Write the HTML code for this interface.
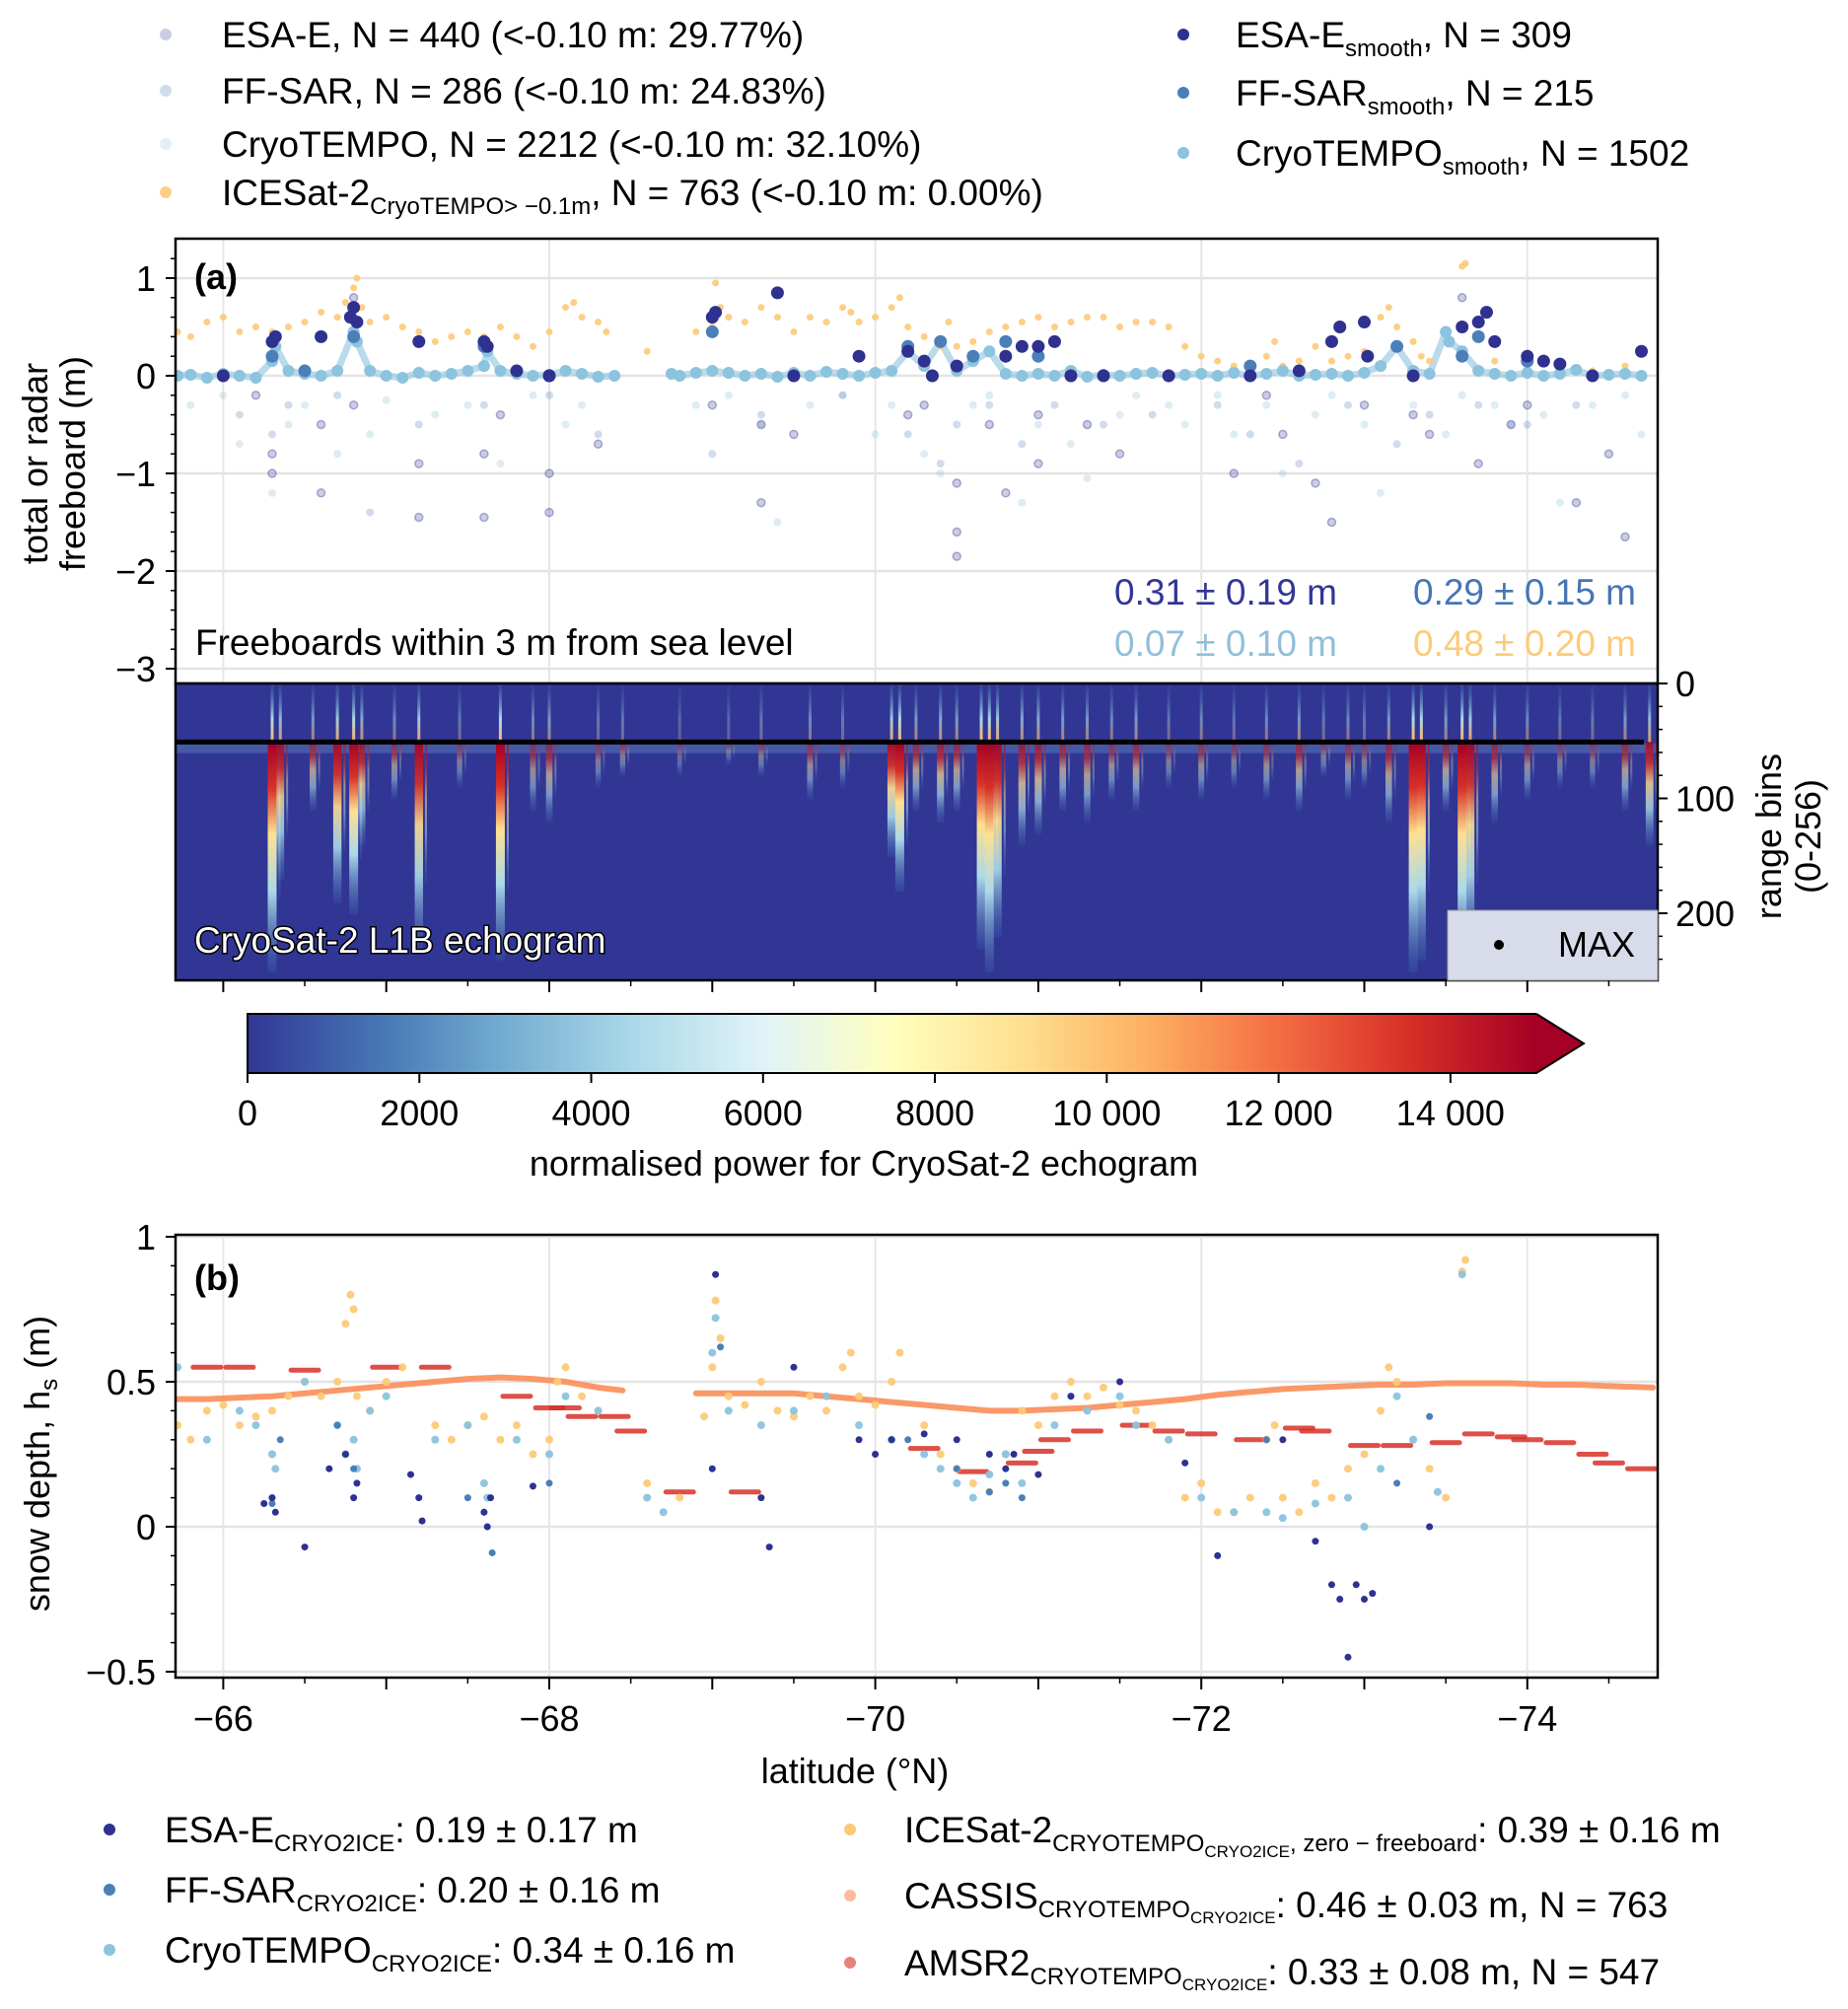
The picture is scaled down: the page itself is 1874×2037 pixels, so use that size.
<!DOCTYPE html>
<html><head><meta charset="utf-8"><style>
html,body{margin:0;padding:0;background:#fff}
svg{display:block;font-family:"Liberation Sans",sans-serif}
</style></head><body>
<svg id="fig" width="1874" height="2037" viewBox="0 0 1874 2037" xmlns="http://www.w3.org/2000/svg">
<defs>
<clipPath id="clipA"><rect x="178" y="242" width="1503" height="451"/></clipPath>
<clipPath id="clipE"><rect x="178" y="693" width="1503" height="301"/></clipPath>
<clipPath id="clipB"><rect x="178" y="1252" width="1503" height="449"/></clipPath>
<linearGradient id="cbar" x1="0" x2="1" y1="0" y2="0">
<stop offset="0" stop-color="#313695"/><stop offset="0.1" stop-color="#4575b4"/><stop offset="0.2" stop-color="#74add1"/><stop offset="0.3" stop-color="#abd9e9"/><stop offset="0.4" stop-color="#e0f3f8"/><stop offset="0.5" stop-color="#ffffbf"/><stop offset="0.6" stop-color="#fee090"/><stop offset="0.7" stop-color="#fdae61"/><stop offset="0.8" stop-color="#f46d43"/><stop offset="0.9" stop-color="#d73027"/><stop offset="1" stop-color="#a50026"/>
</linearGradient>
<linearGradient id="streak" x1="0" x2="0" y1="0" y2="1">
<stop offset="0" stop-color="#a50026"/><stop offset="0.2" stop-color="#d73027"/><stop offset="0.4" stop-color="#fee090"/><stop offset="0.65" stop-color="#abd9e9"/><stop offset="1" stop-color="#4575b4" stop-opacity="0.2"/>
</linearGradient>
<linearGradient id="streakUp" x1="0" x2="0" y1="1" y2="0">
<stop offset="0" stop-color="#fdae61"/><stop offset="0.4" stop-color="#abd9e9"/><stop offset="1" stop-color="#4575b4" stop-opacity="0.2"/>
</linearGradient>
</defs>
<g id="layer"></g>
</svg>
<script>
// ---------- Panel (a) data ----------
const icesatA_lat=[-65.72,-65.8,-65.9,-66.0,-66.1,-66.2,-66.3,-66.4,-66.5,-66.6,-66.7,-66.75,-66.8,-66.82,-66.85,-66.9,-67.0,-67.1,-67.2,-67.3,-67.4,-67.5,-67.6,-67.7,-67.8,-67.9,-68.0,-68.1,-68.15,-68.2,-68.3,-68.35,-68.6,-68.9,-69.0,-69.02,-69.05,-69.1,-69.2,-69.3,-69.4,-69.5,-69.6,-69.7,-69.8,-69.85,-69.9,-70.0,-70.1,-70.15,-70.2,-70.3,-70.4,-70.45,-70.5,-70.6,-70.7,-70.8,-70.9,-71.0,-71.1,-71.2,-71.3,-71.4,-71.5,-71.6,-71.7,-71.8,-71.9,-72.0,-72.1,-72.2,-72.3,-72.4,-72.45,-72.5,-72.6,-72.7,-72.8,-72.9,-73.0,-73.1,-73.15,-73.2,-73.3,-73.35,-73.4,-73.6,-73.62,-73.8,-74.0,-74.2,-74.4,-74.6];
const icesatA_val=[0.45,0.4,0.55,0.6,0.45,0.5,0.45,0.5,0.55,0.65,0.6,0.75,0.9,1.0,0.7,0.55,0.6,0.5,0.45,0.35,0.4,0.45,0.4,0.5,0.4,0.3,0.45,0.7,0.75,0.6,0.55,0.45,0.25,0.45,0.5,0.95,0.7,0.6,0.55,0.7,0.6,0.45,0.6,0.55,0.7,0.65,0.55,0.6,0.7,0.8,0.5,0.4,0.3,0.55,0.3,0.35,0.45,0.5,0.55,0.6,0.5,0.55,0.6,0.6,0.5,0.55,0.55,0.5,0.3,0.2,0.15,0.1,0.05,0.2,0.35,0.1,0.15,0.3,0.15,0.2,0.25,0.6,0.7,0.5,0.35,0.2,0.15,1.12,1.15,0.15,0.1,0.1,0.05,0.1];
const ctSmoothA_lat=[-65.72,-65.8,-65.9,-66.0,-66.1,-66.2,-66.3,-66.32,-66.4,-66.5,-66.6,-66.7,-66.8,-66.82,-66.9,-67.0,-67.1,-67.2,-67.3,-67.4,-67.5,-67.6,-67.62,-67.7,-67.8,-67.9,-68.0,-68.1,-68.2,-68.3,-68.4,-68.75,-68.8,-68.9,-69.0,-69.1,-69.2,-69.3,-69.4,-69.5,-69.6,-69.7,-69.8,-69.9,-70.0,-70.1,-70.2,-70.3,-70.4,-70.5,-70.6,-70.7,-70.8,-70.9,-71.0,-71.1,-71.2,-71.3,-71.4,-71.5,-71.6,-71.7,-71.8,-71.9,-72.0,-72.1,-72.2,-72.3,-72.4,-72.5,-72.6,-72.7,-72.8,-72.9,-73.0,-73.1,-73.2,-73.3,-73.4,-73.5,-73.52,-73.6,-73.7,-73.8,-73.9,-74.0,-74.1,-74.2,-74.3,-74.4,-74.5,-74.6,-74.7];
const ctSmoothA_val=[0.0,0.01,-0.02,0.02,0.0,-0.02,0.15,0.3,0.05,0.02,0.0,0.05,0.45,0.35,0.05,0.0,-0.02,0.03,0.0,0.02,0.05,0.1,0.25,0.05,0.02,0.0,0.01,0.05,0.02,-0.01,0.0,0.02,0.0,0.03,0.05,0.03,0.0,0.02,-0.01,0.03,0.0,0.04,0.02,0.0,0.03,0.05,0.25,0.1,0.35,0.05,0.15,0.25,0.02,0.0,0.02,0.0,0.05,-0.01,0.01,0.0,0.02,0.03,0.0,0.01,0.02,0.0,0.03,0.0,0.02,0.05,0.0,0.01,0.02,0.0,0.03,0.1,0.3,0.05,0.02,0.45,0.35,0.25,0.05,0.02,0.0,0.03,0.0,0.02,0.06,0.0,0.01,0.02,0.0];
const esaSmoothA_lat=[-66.0,-66.3,-66.32,-66.6,-66.8,-66.82,-66.78,-67.2,-67.6,-67.62,-67.8,-68.0,-69.0,-69.02,-69.4,-69.5,-69.9,-70.2,-70.3,-70.35,-70.5,-70.8,-70.9,-71.0,-71.1,-71.2,-71.4,-71.8,-72.3,-72.6,-72.8,-72.85,-73.0,-73.02,-73.3,-73.6,-73.7,-73.75,-73.8,-74.0,-74.1,-74.2,-74.4,-74.7];
const esaSmoothA_val=[0.0,0.35,0.4,0.4,0.7,0.55,0.6,0.35,0.35,0.3,0.05,0.0,0.6,0.65,0.85,0.0,0.2,0.25,0.15,0.0,0.1,0.2,0.3,0.3,0.35,0.0,0.0,0.0,0.0,0.05,0.35,0.5,0.55,0.2,0.0,0.5,0.55,0.65,0.35,0.2,0.15,0.12,0.0,0.25];
const ffSmoothA_lat=[-66.3,-66.5,-66.8,-67.6,-68.0,-69.0,-70.2,-70.4,-70.6,-70.8,-71.0,-72.3,-73.2,-73.6,-73.7,-74.0];
const ffSmoothA_val=[0.2,0.05,0.4,0.3,0.0,0.45,0.3,0.35,0.2,0.35,0.2,0.1,0.3,0.2,0.4,0.15];
const esaRawA_lat=[-66.2,-66.3,-66.3,-66.6,-66.6,-66.8,-66.8,-67.2,-67.2,-67.6,-67.6,-67.7,-68.0,-68.0,-68.3,-69.0,-69.3,-69.3,-69.5,-70.2,-70.3,-70.5,-70.5,-70.5,-70.7,-70.8,-71.0,-71.0,-71.3,-71.5,-72.2,-72.4,-72.5,-72.7,-72.8,-73.0,-73.3,-73.4,-73.6,-73.7,-73.9,-74.0,-74.3,-74.5,-74.6];
const esaRawA_val=[-0.2,-0.8,-1.0,-0.5,-1.2,0.8,-0.3,-0.9,-1.45,-0.8,-1.45,-0.4,-1.0,-1.4,-0.7,-0.3,-0.5,-1.3,-0.6,-0.4,-0.3,-1.1,-1.6,-1.85,-0.5,-1.2,-0.4,-0.9,-0.5,-0.8,-1.0,-0.2,-0.6,-1.1,-1.5,-0.3,-0.4,-0.6,0.8,-0.9,-0.5,-0.3,-1.3,-0.8,-1.65];
const ffRawA_lat=[-66.1,-66.3,-66.4,-66.7,-66.9,-67.2,-67.6,-68.0,-68.3,-69.0,-69.3,-69.8,-70.2,-70.4,-70.5,-70.7,-70.9,-71.1,-71.4,-71.7,-72.1,-72.3,-72.6,-72.9,-73.2,-73.4,-73.7,-74.0,-74.3];
const ffRawA_val=[-0.4,-0.6,-0.3,-0.2,-1.4,-0.5,-0.3,-0.2,-0.6,-0.8,-0.4,-0.2,-0.6,-0.9,-0.5,-0.3,-0.7,-0.3,-0.5,-0.4,-0.3,-0.6,-0.9,-0.3,-0.7,-0.4,-0.3,-0.5,-0.3];
const ctRawA_lat=[-65.8,-66.0,-66.1,-66.3,-66.4,-66.5,-66.7,-66.9,-67.0,-67.3,-67.5,-67.7,-67.9,-68.1,-68.2,-68.9,-69.1,-69.3,-69.4,-69.6,-69.8,-70.0,-70.1,-70.3,-70.4,-70.6,-70.7,-70.9,-71.0,-71.2,-71.3,-71.5,-71.6,-71.8,-71.9,-72.1,-72.2,-72.4,-72.5,-72.7,-72.8,-73.0,-73.1,-73.3,-73.5,-73.6,-73.8,-73.9,-74.1,-74.2,-74.4,-74.6,-74.7];
const ctRawA_val=[-0.3,-0.2,-0.7,-1.2,-0.5,-0.3,-0.8,-0.6,-0.25,-0.4,-0.3,-0.9,-0.2,-0.5,-0.3,-0.3,-0.2,-0.5,-1.5,-0.3,-0.2,-0.6,-0.3,-0.8,-1.0,-0.3,-0.2,-1.3,-0.5,-0.7,-1.05,-0.4,-0.2,-0.3,-0.5,-0.2,-0.6,-0.3,-1.0,-0.4,-0.2,-0.5,-1.2,-0.3,-0.6,-0.2,-0.3,-0.5,-0.4,-1.3,-0.3,-0.2,-0.6];
const statsA=[["0.31 ± 0.19 m","#313695",1130,613],["0.29 ± 0.15 m","#4575b4",1433,613],["0.07 ± 0.10 m","#91bfdb",1130,665],["0.48 ± 0.20 m","#fdca78",1433,665]];
// ---------- Echogram data ----------
const streakLat=[-66.3,-66.35,-66.55,-66.7,-66.8,-66.85,-67.05,-67.2,-67.45,-67.7,-67.9,-68.0,-68.3,-68.45,-68.8,-69.1,-69.3,-69.6,-69.8,-70.1,-70.15,-70.25,-70.4,-70.5,-70.65,-70.7,-70.75,-70.9,-71.0,-71.15,-71.3,-71.45,-71.6,-71.8,-72.0,-72.2,-72.4,-72.6,-72.75,-72.9,-73.0,-73.15,-73.3,-73.35,-73.5,-73.6,-73.65,-73.8,-74.0,-74.2,-74.4,-74.6,-74.75];
const streakLen=[200,120,60,140,150,90,50,180,40,190,60,70,40,30,30,20,30,50,40,100,130,60,70,60,180,200,170,90,80,60,70,50,60,40,50,40,50,60,30,50,40,70,200,190,60,200,180,70,50,40,40,60,90];
const streakPow=[1.0,0.8,0.6,0.9,1.0,0.7,0.5,0.9,0.4,1.0,0.5,0.6,0.4,0.4,0.3,0.3,0.4,0.5,0.4,0.9,1.0,0.6,0.7,0.6,1.0,1.0,0.9,0.7,0.7,0.6,0.6,0.5,0.6,0.4,0.5,0.4,0.5,0.6,0.4,0.5,0.4,0.6,1.0,1.0,0.6,1.0,0.9,0.6,0.5,0.4,0.4,0.6,0.8];
const surfaceBin=51;
// ---------- Panel (b) data ----------
const cassisLat=[-65.72,-65.9,-66.1,-66.3,-66.5,-66.7,-66.9,-67.1,-67.3,-67.5,-67.7,-67.9,-68.1,-68.3,-68.45,-68.9,-69.1,-69.3,-69.5,-69.7,-69.9,-70.1,-70.3,-70.5,-70.7,-70.9,-71.1,-71.3,-71.5,-71.7,-71.9,-72.1,-72.3,-72.5,-72.7,-72.9,-73.1,-73.3,-73.5,-73.7,-73.9,-74.1,-74.3,-74.5,-74.77];
const cassisVal=[0.44,0.44,0.445,0.45,0.46,0.47,0.48,0.49,0.50,0.51,0.515,0.51,0.50,0.48,0.47,0.46,0.46,0.46,0.46,0.45,0.44,0.43,0.42,0.41,0.40,0.40,0.405,0.41,0.42,0.43,0.44,0.455,0.465,0.475,0.48,0.485,0.49,0.49,0.495,0.495,0.495,0.49,0.49,0.485,0.48];
const amsrLat=[-65.9,-66.1,-66.5,-67.0,-67.3,-67.8,-68.0,-68.1,-68.2,-68.4,-68.5,-68.8,-69.2,-70.3,-70.6,-70.9,-71.0,-71.1,-71.3,-71.6,-71.8,-72.0,-72.3,-72.6,-72.7,-73.0,-73.2,-73.5,-73.7,-73.9,-74.0,-74.2,-74.4,-74.5,-74.7];
const amsrVal=[0.55,0.55,0.54,0.55,0.55,0.45,0.41,0.41,0.38,0.38,0.33,0.12,0.12,0.27,0.19,0.22,0.26,0.30,0.33,0.35,0.33,0.32,0.30,0.34,0.33,0.28,0.28,0.29,0.32,0.31,0.30,0.29,0.25,0.22,0.20];
const icesatB_lat=[-65.72,-65.8,-65.9,-66.0,-66.1,-66.2,-66.3,-66.4,-66.5,-66.6,-66.7,-66.75,-66.78,-66.8,-66.82,-66.9,-67.0,-67.1,-67.3,-67.4,-67.5,-67.6,-67.7,-67.8,-67.9,-68.0,-68.05,-68.1,-68.2,-68.3,-68.6,-68.8,-68.95,-69.0,-69.02,-69.05,-69.1,-69.2,-69.3,-69.4,-69.5,-69.6,-69.7,-69.8,-69.85,-69.9,-70.0,-70.1,-70.15,-70.3,-70.4,-70.5,-70.6,-70.7,-70.8,-70.9,-71.0,-71.1,-71.2,-71.3,-71.4,-71.5,-71.6,-71.7,-71.8,-71.9,-72.0,-72.1,-72.2,-72.3,-72.4,-72.45,-72.5,-72.6,-72.7,-72.8,-72.9,-73.0,-73.1,-73.15,-73.2,-73.3,-73.4,-73.5,-73.6,-73.62];
const icesatB_val=[0.35,0.3,0.4,0.42,0.35,0.38,0.4,0.45,0.5,0.45,0.5,0.7,0.8,0.75,0.45,0.4,0.5,0.55,0.35,0.3,0.35,0.38,0.3,0.35,0.25,0.3,0.5,0.55,0.45,0.4,0.15,0.1,0.38,0.55,0.78,0.65,0.45,0.42,0.5,0.4,0.38,0.45,0.4,0.55,0.6,0.45,0.42,0.5,0.6,0.35,0.25,0.2,0.15,0.12,0.25,0.4,0.35,0.45,0.5,0.45,0.48,0.42,0.4,0.35,0.3,0.1,0.15,0.05,0.05,0.1,0.3,0.35,0.1,0.05,0.15,0.1,0.2,0.25,0.4,0.55,0.5,0.3,0.2,0.1,0.88,0.92];
const ctB_lat=[-65.72,-65.9,-66.1,-66.2,-66.3,-66.32,-66.5,-66.7,-66.75,-66.8,-66.82,-66.9,-67.0,-67.3,-67.5,-67.6,-67.62,-67.8,-68.0,-68.1,-68.3,-68.6,-68.7,-69.0,-69.02,-69.1,-69.3,-69.5,-69.7,-69.9,-70.1,-70.3,-70.4,-70.5,-70.6,-70.7,-70.8,-70.9,-71.1,-71.3,-71.5,-71.6,-71.8,-72.0,-72.2,-72.4,-72.5,-72.7,-72.9,-73.0,-73.1,-73.2,-73.3,-73.45,-73.6];
const ctB_val=[0.55,0.3,0.4,0.35,0.25,0.2,0.5,0.35,0.25,0.3,0.2,0.4,0.45,0.3,0.35,0.15,0.1,0.3,0.25,0.45,0.4,0.1,0.05,0.6,0.72,0.4,0.35,0.4,0.45,0.35,0.3,0.25,0.2,0.15,0.1,0.18,0.25,0.15,0.35,0.4,0.45,0.35,0.3,0.1,0.05,0.05,0.03,0.08,0.1,0.0,0.2,0.45,0.3,0.12,0.87];
const esaB_lat=[-66.25,-66.3,-66.32,-66.5,-66.65,-66.75,-66.8,-66.82,-67.15,-67.2,-67.22,-67.6,-67.62,-67.64,-67.9,-69.0,-69.02,-69.3,-69.35,-69.5,-69.9,-70.0,-70.1,-70.3,-70.5,-70.7,-70.8,-70.85,-71.0,-71.2,-71.5,-71.9,-72.1,-72.5,-72.7,-72.8,-72.85,-72.9,-72.95,-73.0,-73.05,-73.4];
const esaB_val=[0.08,0.1,0.05,-0.07,0.2,0.25,0.1,0.15,0.18,0.1,0.02,0.05,0.0,0.1,0.14,0.2,0.87,0.1,-0.07,0.55,0.3,0.25,0.3,0.32,0.3,0.25,0.2,0.25,0.18,0.45,0.5,0.22,-0.1,0.3,-0.05,-0.2,-0.25,-0.45,-0.2,-0.25,-0.23,0.0];
const ffB_lat=[-66.3,-66.35,-66.7,-66.8,-67.5,-67.6,-67.65,-68.0,-69.05,-70.2,-70.5,-70.7,-70.8,-70.9,-71.2,-72.4,-73.2,-73.4];
const ffB_val=[0.08,0.3,0.35,0.2,0.1,0.05,-0.09,0.15,0.62,0.3,0.2,0.12,0.15,0.1,0.45,0.3,0.15,0.38];
// ---------- axes ----------
const R=1681;
const xA=lat=>226.4+(-66-lat)*165.3;
const yA=v=>381-v*99;
const yE=b=>693+b*1.165;
const yB=v=>1548-v*294;
const FS=36, SUB=24;
const NS="http://www.w3.org/2000/svg";
const root=document.getElementById('layer');
function mk(tag,attrs,parent){const e=document.createElementNS(NS,tag);for(const k in attrs)e.setAttribute(k,attrs[k]);(parent||root).appendChild(e);return e;}
function txt(s,x,y,size,extra,parent){const t=mk('text',Object.assign({x:x,y:y,'font-size':size},extra||{}),parent);t.innerHTML=s;return t;}

const gA=mk('g',{});


[-3,-2,-1,0,1].forEach(v=>mk('line',{x1:178,x2:R,y1:yA(v),y2:yA(v),stroke:'#e3e3e3','stroke-width':2.5},gA));
[-66,-68,-70,-72,-74].forEach(v=>mk('line',{x1:xA(v),x2:xA(v),y1:242,y2:693,stroke:'#e6e6e6','stroke-width':2},gA));

function scatter(name,lats,vals,ys,r,fill,op,clip,strokeC){
  const g=mk('g',{'clip-path':'url(#'+clip+')'});
  
  
  for(let i=0;i<lats.length;i++){
    const c=mk('circle',{cx:xA(lats[i]),cy:ys(vals[i]),r:r,fill:fill,'fill-opacity':op},g);
    if(strokeC){c.setAttribute('stroke',strokeC);c.setAttribute('stroke-opacity',op*1.5);c.setAttribute('stroke-width',1.5);}
  }
}
const band=mk('g',{'clip-path':'url(#clipA)'});


{let seg=[];const segs=[];for(let i=0;i<ctSmoothA_lat.length;i++){if(i>0&&ctSmoothA_lat[i-1]-ctSmoothA_lat[i]>0.3){segs.push(seg);seg=[];}seg.push(xA(ctSmoothA_lat[i])+','+yA(ctSmoothA_val[i]));}segs.push(seg);
segs.forEach(s=>mk('polyline',{points:s.join(' '),fill:'none',stroke:'#8cc3de','stroke-width':7,'stroke-opacity':0.6,'stroke-linejoin':'round'},band));}
scatter('cryotempo-raw-points',ctRawA_lat,ctRawA_val,yA,4,'#91bfdb',0.3,'clipA');
scatter('ffsar-raw-points',ffRawA_lat,ffRawA_val,yA,4,'#4575b4',0.25,'clipA');
scatter('esae-raw-points',esaRawA_lat,esaRawA_val,yA,4,'#313695',0.25,'clipA','#313695');
scatter('icesat2-points-a',icesatA_lat,icesatA_val,yA,3.5,'#fdca78',0.9,'clipA');
scatter('cryotempo-smooth-points',ctSmoothA_lat,ctSmoothA_val,yA,6,'#8cc3de',1,'clipA');
scatter('ffsar-smooth-points',ffSmoothA_lat,ffSmoothA_val,yA,6.5,'#4a7fb9',1,'clipA');
scatter('esae-smooth-points',esaSmoothA_lat,esaSmoothA_val,yA,6.5,'#2f3190',1,'clipA');

mk('rect',{x:178,y:242,width:R-178,height:451,fill:'none',stroke:'#000','stroke-width':2.5});
const yaT=mk('g',{});


[-3,-2,-1,0,1].forEach(v=>{mk('line',{x1:168,x2:178,y1:yA(v),y2:yA(v),stroke:'#000','stroke-width':2},yaT);txt(v<0?'−'+(-v):''+v,158,yA(v)+13,FS,{'text-anchor':'end'},yaT);});
for(let v=-3;v<=1.3;v+=0.2){if(Math.abs(v-Math.round(v))>0.01)mk('line',{x1:173,x2:178,y1:yA(v),y2:yA(v),stroke:'#000','stroke-width':1.5},yaT);}
const yl=txt('total or radar',0,0,FS,{'text-anchor':'middle',transform:'translate(48,470) rotate(-90)'});


const yl2=txt('freeboard (m)',0,0,FS,{'text-anchor':'middle',transform:'translate(86,470) rotate(-90)'});


const la=txt('(a)',197,293,FS,{'font-weight':'bold'});


const fb=txt('Freeboards within 3 m from sea level',198,664,37,{});


statsA.forEach(s=>{const t=txt(s[0],s[2],s[3],37,{fill:s[1]});});

// echogram
const gE=mk('g',{'clip-path':'url(#clipE)'});


mk('rect',{x:178,y:693,width:R-178,height:301,fill:'#313695'},gE);
mk('rect',{x:178,y:yE(surfaceBin+1),width:R-178,height:10,fill:'#74add1','fill-opacity':0.3},gE);
for(let i=0;i<streakLat.length;i++){
  const x=xA(streakLat[i]);
  const w=3+streakPow[i]*6;
  const s=mk('rect',{x:x-w/2,y:yE(surfaceBin),width:w,height:streakLen[i]*1.165,fill:'url(#streak)','fill-opacity':streakPow[i]},gE);
  
  
  mk('rect',{x:x+w/2+2,y:yE(surfaceBin),width:2,height:streakLen[i]*0.8,fill:'url(#streak)','fill-opacity':streakPow[i]*0.6},gE);
  mk('rect',{x:x-1.5,y:yE(0),width:3,height:surfaceBin*1.165,fill:'url(#streakUp)','fill-opacity':streakPow[i]},gE);
}
mk('line',{x1:178,x2:R-14,y1:yE(surfaceBin),y2:yE(surfaceBin),stroke:'#000','stroke-width':5},gE);
mk('rect',{x:178,y:693,width:R-178,height:301,fill:'none',stroke:'#000','stroke-width':2.5});
const ry=mk('g',{});


[0,100,200].forEach(b=>{mk('line',{x1:R,x2:R+10,y1:yE(b),y2:yE(b),stroke:'#000','stroke-width':2},ry);txt(''+b,R+18,yE(b)+13,FS,{},ry);});
for(let b=20;b<=250;b+=20){if(b%100)mk('line',{x1:R,x2:R+5,y1:yE(b),y2:yE(b),stroke:'#000','stroke-width':1.5},ry);}
txt('range bins',0,0,FS,{'text-anchor':'middle',transform:'translate(1806,848) rotate(-90)'},ry);
txt('(0-256)',0,0,FS,{'text-anchor':'middle',transform:'translate(1846,848) rotate(-90)'},ry);
const en=txt('CryoSat-2 L1B echogram',197,966,37,{fill:'#fff',stroke:'#000','stroke-width':3,'paint-order':'stroke'});


const mb=mk('g',{});


mk('rect',{x:1468,y:923,width:R-1468,height:71,fill:'#d8dbea',stroke:'#999','stroke-width':1},mb);
mk('circle',{cx:1520,cy:958,r:5,fill:'#000'},mb);
txt('MAX',1580,970,FS,{},mb);
const xt1=mk('g',{});


for(let v=-66;v>=-74.5;v-=0.5){const maj=Number.isInteger(v);mk('line',{x1:xA(v),x2:xA(v),y1:994,y2:maj?1006:1000,stroke:'#000','stroke-width':maj?2:1.5},xt1);}

// colorbar
const cb=mk('g',{});


mk('rect',{x:251,y:1028,width:1307,height:60,fill:'url(#cbar)'},cb);
mk('polygon',{points:'1558,1028 1606,1058 1558,1088',fill:'#a50026'},cb);
mk('polyline',{points:'1558,1028 251,1028 251,1088 1558,1088 1606,1058 1558,1028',fill:'none',stroke:'#000','stroke-width':2},cb);
const cbTicks=[0,2000,4000,6000,8000,10000,12000,14000];
const cbLabels=['0','2000','4000','6000','8000','10 000','12 000','14 000'];
cbTicks.forEach((v,i)=>{const x=251+v/15000*1307;mk('line',{x1:x,x2:x,y1:1088,y2:1098,stroke:'#000','stroke-width':2},cb);txt(cbLabels[i],x,1141,FS,{'text-anchor':'middle'},cb);});
txt('normalised power for CryoSat-2 echogram',876,1192,FS,{'text-anchor':'middle'},cb);

// panel b
const gB=mk('g',{});


[-0.5,0,0.5,1].forEach(v=>mk('line',{x1:178,x2:R,y1:yB(v),y2:yB(v),stroke:'#e3e3e3','stroke-width':2.5},gB));
[-66,-68,-70,-72,-74].forEach(v=>mk('line',{x1:xA(v),x2:xA(v),y1:1252,y2:1701,stroke:'#e6e6e6','stroke-width':2},gB));
const cs=mk('g',{'clip-path':'url(#clipB)'});


let segs=[];let cur=[];
for(let i=0;i<cassisLat.length;i++){if(i>0&&cassisLat[i-1]-cassisLat[i]>0.3){segs.push(cur);cur=[];}cur.push(xA(cassisLat[i])+','+yB(cassisVal[i]));}
segs.push(cur);
segs.forEach(s=>mk('polyline',{points:s.join(' '),fill:'none',stroke:'#f98e58','stroke-width':6,'stroke-opacity':0.9,'stroke-linecap':'round'},cs));
const am=mk('g',{'clip-path':'url(#clipB)'});


for(let i=0;i<amsrLat.length;i++){const x=xA(amsrLat[i]);mk('line',{x1:x-14,x2:x+14,y1:yB(amsrVal[i]),y2:yB(amsrVal[i]),stroke:'#d73027','stroke-width':5,'stroke-opacity':0.85,'stroke-linecap':'round'},am);}
scatter('icesat2-points-b',icesatB_lat,icesatB_val,yB,4,'#fdca78',0.95,'clipB');
scatter('cryotempo-points-b',ctB_lat,ctB_val,yB,4,'#8cc3de',0.95,'clipB');
scatter('ffsar-points-b',ffB_lat,ffB_val,yB,3.5,'#4a7fb9',1,'clipB');
scatter('esae-points-b',esaB_lat,esaB_val,yB,3.5,'#2f3190',1,'clipB');
mk('rect',{x:178,y:1252,width:R-178,height:449,fill:'none',stroke:'#000','stroke-width':2.5});
const ybT=mk('g',{});


[[-0.5,'−0.5'],[0,'0'],[0.5,'0.5'],[1,'1']].forEach(p=>{mk('line',{x1:168,x2:178,y1:yB(p[0]),y2:yB(p[0]),stroke:'#000','stroke-width':2},ybT);txt(p[1],158,yB(p[0])+13,FS,{'text-anchor':'end'},ybT);});
for(let v=-0.5;v<=1;v+=0.1){const r=Math.round(v*10);if(r%5)mk('line',{x1:173,x2:178,y1:yB(r/10),y2:yB(r/10),stroke:'#000','stroke-width':1.5},ybT);}
txt('snow depth, h<tspan font-size="'+SUB+'" dy="8">s</tspan><tspan dy="-8"> (m)</tspan>',0,0,FS,{'text-anchor':'middle',transform:'translate(50,1484) rotate(-90)'},ybT);
const xbT=mk('g',{});


for(let v=-66;v>=-74.5;v-=0.5){const maj=Number.isInteger(v);mk('line',{x1:xA(v),x2:xA(v),y1:1701,y2:maj?1713:1707,stroke:'#000','stroke-width':maj?2:1.5},xbT);if(maj&&v%2===0)txt('−'+(-v),xA(v),1755,FS,{'text-anchor':'middle'},xbT);}
txt('latitude (°N)',867,1808,FS,{'text-anchor':'middle'},xbT);
const lb=txt('(b)',197,1308,FS,{'font-weight':'bold'});



// legends
function leg(name,cx,cy,col,op,tx,html){const g=mk('g',{});mk('circle',{cx:cx,cy:cy,r:6,fill:col,'fill-opacity':op},g);txt(html,tx,cy+13,37,{},g);}
const S=(t)=>'<tspan font-size="'+SUB+'" dy="9">'+t+'</tspan><tspan dy="-9">';
leg('legend-esae',168,35,'#313695',0.25,225,'ESA-E, N = 440 (&lt;-0.10 m: 29.77%)');
leg('legend-ffsar',168,92,'#4575b4',0.25,225,'FF-SAR, N = 286 (&lt;-0.10 m: 24.83%)');
leg('legend-cryotempo',168,146,'#91bfdb',0.25,225,'CryoTEMPO, N = 2212 (&lt;-0.10 m: 32.10%)');
leg('legend-icesat2',168,195,'#fdca78',0.9,225,'ICESat-2'+S('CryoTEMPO&gt; −0.1m')+', N = 763 (&lt;-0.10 m: 0.00%)</tspan>');
leg('legend-esae-smooth',1200,35,'#2f3190',1,1253,'ESA-E'+S('smooth')+', N = 309</tspan>');
leg('legend-ffsar-smooth',1200,94,'#4a7fb9',1,1253,'FF-SAR'+S('smooth')+', N = 215</tspan>');
leg('legend-cryotempo-smooth',1200,155,'#8cc3de',1,1253,'CryoTEMPO'+S('smooth')+', N = 1502</tspan>');
leg('legend-b-esae',111,1855,'#2f3190',1,167,'ESA-E'+S('CRYO2ICE')+': 0.19 ± 0.17 m</tspan>');
leg('legend-b-ffsar',111,1916,'#4a7fb9',1,167,'FF-SAR'+S('CRYO2ICE')+': 0.20 ± 0.16 m</tspan>');
leg('legend-b-cryotempo',111,1977,'#8cc3de',1,167,'CryoTEMPO'+S('CRYO2ICE')+': 0.34 ± 0.16 m</tspan>');
leg('legend-b-icesat2',862,1855,'#fdca78',1,917,'ICESat-2'+S('CRYOTEMPO<tspan font-size="17" dy="6">CRYO2ICE</tspan><tspan dy="-6">, zero − freeboard</tspan>')+': 0.39 ± 0.16 m</tspan>');
leg('legend-b-cassis',862,1922,'#fc8d59',0.6,917,'CASSIS'+S('CRYOTEMPO<tspan font-size="17" dy="6">CRYO2ICE</tspan>')+'<tspan dy="-6">: 0.46 ± 0.03 m, N = 763</tspan></tspan>');
leg('legend-b-amsr2',862,1990,'#d73027',0.6,917,'AMSR2'+S('CRYOTEMPO<tspan font-size="17" dy="6">CRYO2ICE</tspan>')+'<tspan dy="-6">: 0.33 ± 0.08 m, N = 547</tspan></tspan>');
</script>
</body></html>
